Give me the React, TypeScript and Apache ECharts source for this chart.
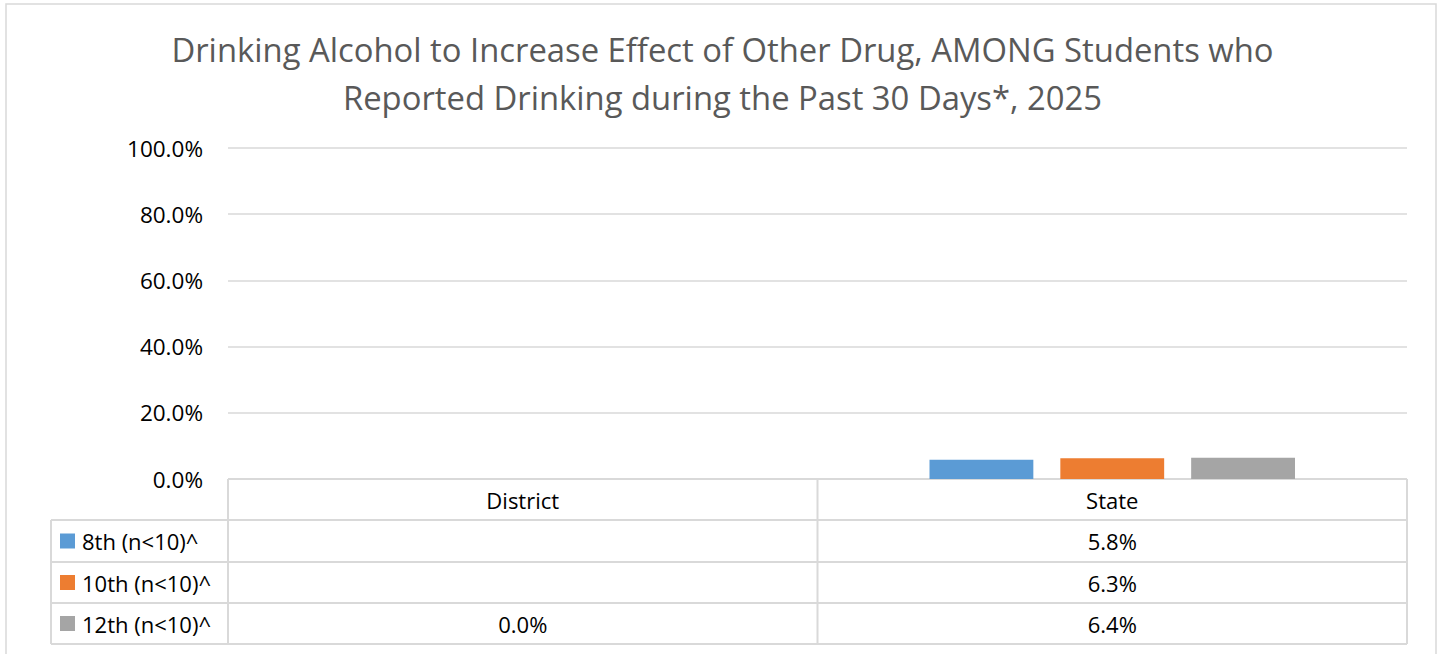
import React, { useEffect, useRef } from "react";
import * as echarts from "echarts";

const titleLines = [
  "Drinking Alcohol to Increase Effect of Other Drug, AMONG Students who",
  "Reported Drinking during the Past 30 Days*, 2025",
];
const categories = ["District", "State"];
const seriesNames = ["8th (n<10)^", "10th (n<10)^", "12th (n<10)^"];
const grade8 = [null, 5.8];
const grade10 = [null, 6.3];
const grade12 = [0.0, 6.4];
const seriesColors = ["#5B9BD5", "#ED7D31", "#A5A5A5"];
const yTicks = [0, 20, 40, 60, 80, 100];

const FONT = "'Open Sans', 'Noto Sans', sans-serif";

export default function App() {
  const ref = useRef<HTMLDivElement>(null);
  useEffect(() => {
    document.body.style.margin = "0";
    if (!ref.current) return;
    const chart = echarts.init(ref.current, null, { renderer: "svg" });
    const W = 1441;
    const gridLeft = 228;
    const gridRight = 1407;
    const gridTop = 148;
    const gridBottom = 479;
    const tableLeft = 51;
    const rowBounds = [479, 520, 562, 603, 644];
    const colW = (gridRight - gridLeft) / categories.length;
    const lineColor = "#D9D9D9";
    const data = [grade8, grade10, grade12];
    const cellFont = `22px ${FONT}`;

    const graphics: any[] = [];
    graphics.push({
      type: "rect",
      shape: { x: 6, y: 4, width: 1430, height: 720 },
      style: { fill: "none", stroke: lineColor, lineWidth: 1.5 },
      silent: true,
    });
    titleLines.forEach((t, i) => {
      graphics.push({
        type: "text",
        x: W / 2 + 2,
        y: 49 + i * 48,
        style: {
          text: t,
          font: `32.8px ${FONT}`,
          fill: "#595959",
          align: "center",
          verticalAlign: "middle",
        },
      });
    });
    graphics.push({
      type: "line",
      shape: { x1: gridLeft, y1: rowBounds[0], x2: gridRight, y2: rowBounds[0] },
      style: { stroke: lineColor, lineWidth: 2 },
    });
    for (let r = 1; r < rowBounds.length; r++) {
      graphics.push({
        type: "line",
        shape: { x1: tableLeft, y1: rowBounds[r], x2: gridRight, y2: rowBounds[r] },
        style: { stroke: lineColor, lineWidth: 2 },
      });
    }
    graphics.push({
      type: "line",
      shape: { x1: tableLeft, y1: rowBounds[1], x2: tableLeft, y2: rowBounds[4] },
      style: { stroke: lineColor, lineWidth: 2 },
    });
    for (let c = 0; c <= categories.length; c++) {
      const x = gridLeft + c * colW;
      graphics.push({
        type: "line",
        shape: { x1: x, y1: rowBounds[0], x2: x, y2: rowBounds[4] },
        style: { stroke: lineColor, lineWidth: 2 },
      });
    }
    categories.forEach((cat, c) => {
      graphics.push({
        type: "text",
        x: gridLeft + (c + 0.5) * colW,
        y: (rowBounds[0] + rowBounds[1]) / 2,
        style: {
          text: cat,
          font: cellFont,
          fill: "#000000",
          align: "center",
          verticalAlign: "middle",
        },
      });
    });
    seriesNames.forEach((name, s) => {
      const cy = (rowBounds[s + 1] + rowBounds[s + 2]) / 2;
      graphics.push({
        type: "rect",
        shape: { x: 60, y: cy - 7.5, width: 15, height: 15 },
        style: { fill: seriesColors[s] },
      });
      graphics.push({
        type: "text",
        x: 82,
        y: cy,
        style: {
          text: name,
          font: cellFont,
          fill: "#000000",
          align: "left",
          verticalAlign: "middle",
        },
      });
      categories.forEach((_, c) => {
        const v = data[s][c];
        if (v === null || v === undefined) return;
        graphics.push({
          type: "text",
          x: gridLeft + (c + 0.5) * colW,
          y: cy,
          style: {
            text: (v as number).toFixed(1) + "%",
            font: cellFont,
            fill: "#000000",
            align: "center",
            verticalAlign: "middle",
          },
        });
      });
    });

    chart.setOption({
      animation: false,
      backgroundColor: "#ffffff",
      grid: {
        left: gridLeft,
        right: W - gridRight,
        top: gridTop,
        bottom: 654 - gridBottom,
        containLabel: false,
      },
      xAxis: {
        type: "category",
        data: categories,
        axisLine: { show: false },
        axisTick: { show: false },
        axisLabel: { show: false },
      },
      yAxis: {
        type: "value",
        min: yTicks[0],
        max: yTicks[yTicks.length - 1],
        interval: 20,
        axisLine: { show: false },
        axisTick: { show: false },
        axisLabel: {
          formatter: (v: number) => v.toFixed(1) + "%",
          fontFamily: FONT,
          fontSize: 22.5,
          color: "#000000",
          margin: 25,
        },
        splitLine: { lineStyle: { color: lineColor, width: 1.5 } },
      },
      series: seriesNames.map((name, s) => ({
        name,
        type: "bar",
        data: data[s],
        barCategoryGap: "38%",
        barGap: "26%",
        itemStyle: { color: seriesColors[s] },
      })),
      graphic: graphics,
    });
    return () => chart.dispose();
  }, []);
  return <div ref={ref} style={{ width: 1441, height: 654 }} />;
}
